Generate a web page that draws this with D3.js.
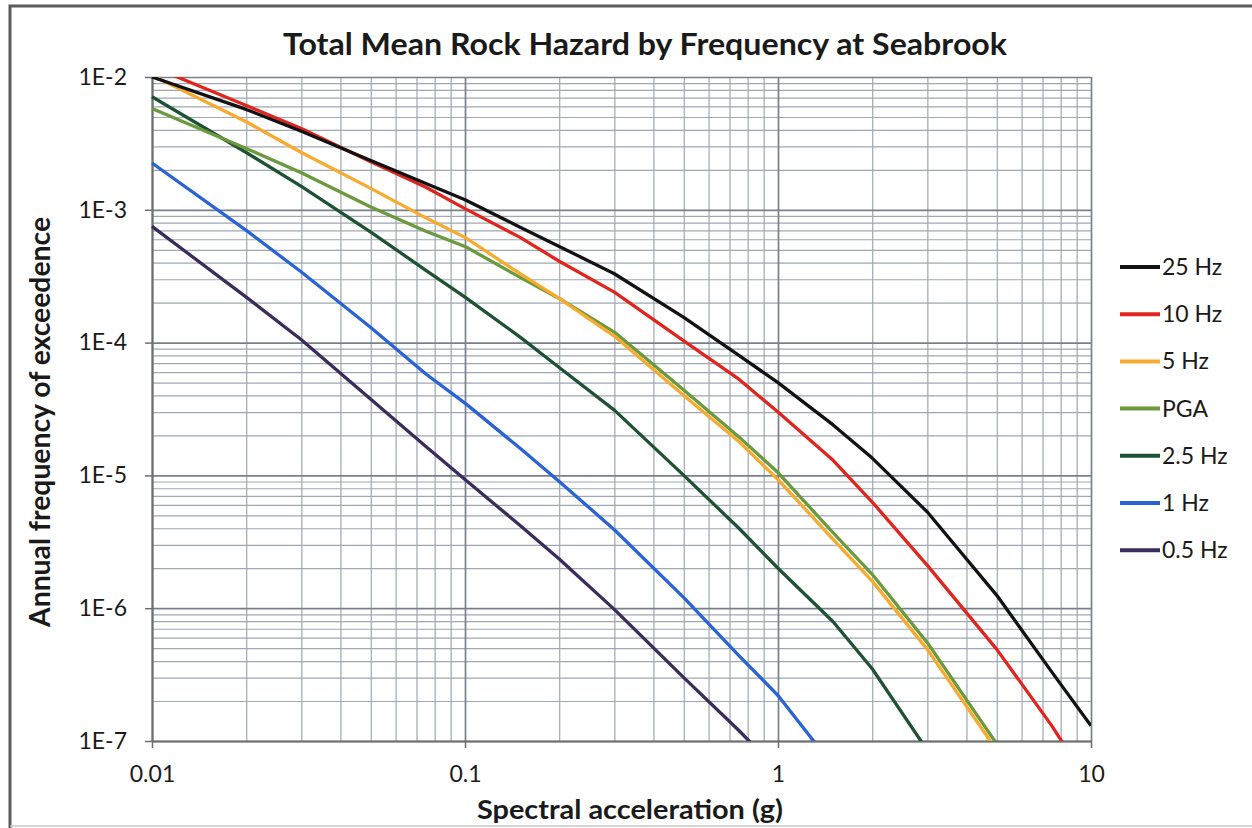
<!DOCTYPE html>
<html>
<head>
<meta charset="utf-8">
<script src="https://cdn.jsdelivr.net/npm/d3@7"></script>
<style>
  body { margin: 0; background: #fff; }
  #graf { width: 1252px; height: 828px; }
  text { font-family: Lato, 'Open Sans', sans-serif; fill: #1a1a1a; }
</style>
</head>
<body>
<div id="graf"></div>
<script>
// Datos (aceleracion espectral en g, frecuencia anual de excedencia)
accel = [0.01, 0.02, 0.03, 0.05, 0.075, 0.1, 0.15, 0.2, 0.3, 0.5, 0.75, 1, 1.5, 2, 3, 5, 7.5, 10]

hz25  = [1.0e-2, 5.7e-3, 3.9e-3, 2.35e-3, 1.58e-3, 1.19e-3, 7.4e-4, 5.3e-4, 3.3e-4, 1.55e-4, 8.0e-5, 5.0e-5, 2.4e-5, 1.35e-5, 5.3e-6, 1.25e-6, 3.3e-7, 1.3e-7]
hz10  = [1.2e-2, 6.1e-3, 4.1e-3, 2.3e-3, 1.48e-3, 1.02e-3, 6.2e-4, 4.1e-4, 2.4e-4, 1.03e-4, 5.3e-5, 3.0e-5, 1.3e-5, 6.3e-6, 2.1e-6, 4.9e-7, 1.3e-7, 4.5e-8]
hz5   = [1.03e-2, 4.6e-3, 2.7e-3, 1.45e-3, 8.7e-4, 6.2e-4, 3.3e-4, 2.15e-4, 1.12e-4, 4.0e-5, 1.8e-5, 9.3e-6, 3.3e-6, 1.6e-6, 4.9e-7, 8.5e-8, null, null]
pga   = [5.8e-3, 2.9e-3, 1.9e-3, 1.05e-3, 6.9e-4, 5.3e-4, 3.1e-4, 2.15e-4, 1.2e-4, 4.4e-5, 1.95e-5, 1.05e-5, 3.7e-6, 1.8e-6, 5.5e-7, 9.5e-8, null, null]
hz2_5 = [7.1e-3, 2.7e-3, 1.5e-3, 6.8e-4, 3.5e-4, 2.2e-4, 1.1e-4, 6.5e-5, 3.1e-5, 1.0e-5, 4.0e-6, 2.0e-6, 7.9e-7, 3.5e-7, 8.5e-8, null, null, null]
hz1   = [2.25e-3, 7.0e-4, 3.4e-4, 1.3e-4, 5.8e-5, 3.5e-5, 1.6e-5, 9.0e-6, 3.9e-6, 1.2e-6, 4.4e-7, 2.2e-7, 6.5e-8, null, null, null, null, null]
hz0_5 = [7.5e-4, 2.2e-4, 1.05e-4, 3.75e-5, 1.65e-5, 9.3e-6, 4.2e-6, 2.35e-6, 9.8e-7, 3.0e-7, 1.2e-7, 6.0e-8, null, null, null, null, null, null]

seriesNames  = ['25 Hz', '10 Hz', '5 Hz', 'PGA', '2.5 Hz', '1 Hz', '0.5 Hz']
seriesValues = [hz25, hz10, hz5, pga, hz2_5, hz1, hz0_5]
seriesColors = ['#121212', '#e1251e', '#f8aa2e', '#6a9a3b', '#1f5232', '#2a63d6', '#3a2c5c']

xTicks = [0.01, 0.1, 1, 10]
yTicks = [1e-2, 1e-3, 1e-4, 1e-5, 1e-6, 1e-7]
yTickLabels = ['1E-2', '1E-3', '1E-4', '1E-5', '1E-6', '1E-7']

// Espacio de visualizacion
ancho_total = 1252
alto_total = 828
margins = {top: 77, left: 152, right: 161, bottom: 87}
ancho = ancho_total - margins.left - margins.right
alto = alto_total - margins.top - margins.bottom

svg = d3.select('#graf').append('svg')
        .attr('width', ancho_total)
        .attr('height', alto_total)

// marco exterior (escaneado)
svg.append('path')
   .attr('d', `M10,828 L10,6 L1252,6`)
   .attr('fill', 'none')
   .attr('stroke', '#5a5a5a')
   .attr('stroke-width', 3)
svg.append('line')
   .attr('x1', 10).attr('x2', 1252)
   .attr('y1', 826).attr('y2', 826)
   .attr('stroke', '#c8c8c8')
   .attr('stroke-width', 1.5)

g = svg.append('g')
       .attr('transform', `translate(${margins.left}, ${margins.top})`)

x = d3.scaleLog().domain([0.01, 10]).range([0, ancho])
y = d3.scaleLog().domain([1e-7, 1e-2]).range([alto, 0])

// Rejilla menor y mayor
minorX = []
minorY = []
d3.range(-2, 1).forEach(e => d3.range(2, 10).forEach(k => minorX.push(k * Math.pow(10, e))))
d3.range(-7, -2).forEach(e => d3.range(2, 10).forEach(k => minorY.push(k * Math.pow(10, e))))

g.append('g')
 .attr('transform', `translate(0, ${alto})`)
 .call(d3.axisBottom(x).tickValues(minorX).tickFormat('').tickSize(-alto).tickSizeOuter(0))
 .call(a => a.select('.domain').remove())
 .call(a => a.selectAll('line').attr('stroke', '#9ea7b3').attr('stroke-width', 1.2))

g.append('g')
 .call(d3.axisLeft(y).tickValues(minorY).tickFormat('').tickSize(-ancho).tickSizeOuter(0))
 .call(a => a.select('.domain').remove())
 .call(a => a.selectAll('line').attr('stroke', '#9ea7b3').attr('stroke-width', 1.2))

g.append('g')
 .attr('transform', `translate(0, ${alto})`)
 .call(d3.axisBottom(x).tickValues(xTicks).tickFormat('').tickSize(-alto).tickSizeOuter(0))
 .call(a => a.select('.domain').remove())
 .call(a => a.selectAll('line').attr('stroke', '#77808c').attr('stroke-width', 1.7))

g.append('g')
 .call(d3.axisLeft(y).tickValues(yTicks).tickFormat('').tickSize(-ancho).tickSizeOuter(0))
 .call(a => a.select('.domain').remove())
 .call(a => a.selectAll('line').attr('stroke', '#77808c').attr('stroke-width', 1.7))

// Ejes con marcas exteriores
ejeX = g.append('g')
        .attr('transform', `translate(0, ${alto})`)
        .call(d3.axisBottom(x).tickValues(xTicks).tickFormat(d => d3.format('')(d)).tickSize(7).tickSizeOuter(0).tickPadding(18))
ejeX.select('.domain').attr('stroke', '#6e6e6e').attr('stroke-width', 2)
ejeX.selectAll('line').attr('stroke', '#6e6e6e').attr('stroke-width', 1.5)
ejeX.selectAll('text').attr('font-size', '23px').attr('font-family', 'Lato').attr('fill', '#1a1a1a')

ejeY = g.append('g')
        .call(d3.axisLeft(y).tickValues(yTicks).tickFormat((d, i) => yTickLabels[i]).tickSize(7).tickSizeOuter(0).tickPadding(18))
ejeY.select('.domain').attr('stroke', '#6e6e6e').attr('stroke-width', 2)
ejeY.selectAll('line').attr('stroke', '#6e6e6e').attr('stroke-width', 1.5)
ejeY.selectAll('text').attr('font-size', '23px').attr('font-family', 'Lato').attr('fill', '#1a1a1a')

// Curvas
g.append('clipPath')
 .attr('id', 'clip')
 .append('rect')
 .attr('x', -2).attr('y', 0)
 .attr('width', ancho + 2).attr('height', alto)

linea = d3.line()
          .defined(d => d[1] != null)
          .x(d => x(d[0]))
          .y(d => y(d[1]))

seriesValues.slice().reverse().forEach((vals, j) => {
    i = seriesValues.length - 1 - j
    g.append('path')
     .datum(accel.map((a, k) => [a, vals[k]]))
     .attr('d', linea)
     .attr('fill', 'none')
     .attr('stroke', seriesColors[i])
     .attr('stroke-width', 3.3)
     .attr('stroke-linejoin', 'round')
     .attr('clip-path', 'url(#clip)')
})

// Leyenda
seriesNames.forEach((d, i) => {
    ly = 267 + i * 47.2
    svg.append('line')
       .attr('x1', 1120).attr('x2', 1160)
       .attr('y1', ly).attr('y2', ly)
       .attr('stroke', seriesColors[i])
       .attr('stroke-width', 4)
    svg.append('text')
       .attr('x', 1162)
       .attr('y', ly + 8)
       .attr('font-size', '23px')
       .text(d)
})

// Titulos
svg.append('text')
   .attr('x', 645).attr('y', 55)
   .attr('text-anchor', 'middle')
   .attr('font-size', '30px')
   .attr('font-weight', 'bold')
   .attr('textLength', 724)
   .attr('lengthAdjust', 'spacingAndGlyphs')
   .text('Total Mean Rock Hazard by Frequency at Seabrook')

svg.append('text')
   .attr('x', 630).attr('y', 819)
   .attr('text-anchor', 'middle')
   .attr('font-size', '27px')
   .attr('font-weight', 'bold')
   .attr('textLength', 306)
   .attr('lengthAdjust', 'spacingAndGlyphs')
   .text('Spectral acceleration (g)')

svg.append('text')
   .attr('transform', 'translate(50, 422) rotate(-90)')
   .attr('text-anchor', 'middle')
   .attr('font-size', '28px')
   .attr('font-weight', 'bold')
   .attr('textLength', 410)
   .attr('lengthAdjust', 'spacingAndGlyphs')
   .text('Annual frequency of exceedence')
</script>
</body>
</html>
